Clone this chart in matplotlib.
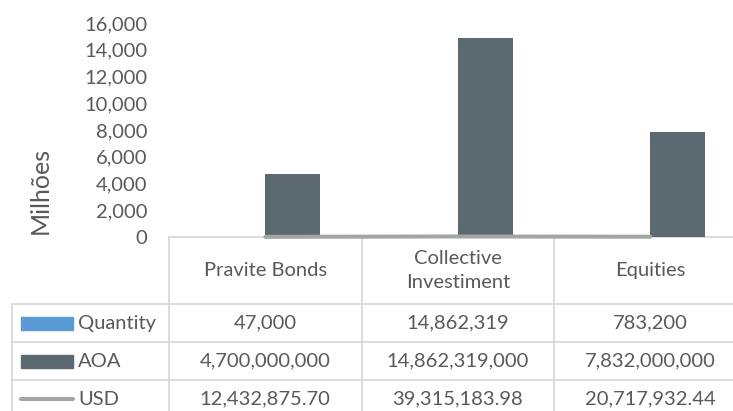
import matplotlib.pyplot as plt
from matplotlib.patches import Rectangle
import numpy as np

plt.rcParams['font.family'] = ['Lato', 'DejaVu Sans']

# Dados por tipo de ativo
categories = ['Pravite Bonds', 'Collective\nInvestiment', 'Equities']
quantity = np.array([47000, 14862319, 783200])
aoa = np.array([4700000000, 14862319000, 7832000000])
usd = np.array([12432875.70, 39315183.98, 20717932.44])

series_names = ['Quantity', 'AOA', 'USD']
series_labels = [
    [f'{v:,.0f}' for v in quantity],
    [f'{v:,.0f}' for v in aoa],
    [f'{v:,.2f}' for v in usd],
]

c_qty = '#5B9BD5'
c_aoa = '#5B6971'
c_usd = '#A5A5A5'
c_text = '#595959'
c_grid = '#D9D9D9'
fs = 14.5

W, H = 733, 411
fig = plt.figure(figsize=(W / 100, H / 100), dpi=100)

# geometria da tabela (pixels)
x_leg = 12
x0 = 169
colw = 192.5
y_axis = 237
y_head = 304
row_h = 38
y_max = 23

# camada da tabela de dados
tab = fig.add_axes([0, 0, 1, 1])
tab.set_xlim(0, W)
tab.set_ylim(H, 0)
tab.axis('off')

x_right = x0 + 3 * colw
tab.plot([x0, x_right], [y_axis, y_axis], color=c_grid, lw=1.3)
for r in range(4):
    y = y_head + r * row_h
    tab.plot([x_leg, x_right], [y, y], color=c_grid, lw=1.3)
tab.plot([x_leg, x_leg], [y_head, y_head + 3 * row_h], color=c_grid, lw=1.3)
for i in range(4):
    x = x0 + i * colw
    tab.plot([x, x], [y_axis, y_head + 3 * row_h], color=c_grid, lw=1.3)

for i, cat in enumerate(categories):
    tab.text(x0 + (i + 0.5) * colw, (y_axis + y_head) / 2, cat, ha='center',
             va='center', fontsize=fs, color=c_text, linespacing=1.45)

for r, (name, labels) in enumerate(zip(series_names, series_labels)):
    yc = y_head + (r + 0.5) * row_h
    if name == 'USD':
        tab.plot([21, 73], [yc, yc], color=c_usd, lw=2.9, solid_capstyle='round')
    else:
        col = c_qty if name == 'Quantity' else c_aoa
        tab.add_patch(Rectangle((21, yc - 6.5), 52, 13, color=col))
    tab.text(78, yc, name, ha='left', va='center', fontsize=fs, color=c_text)
    for i, lab in enumerate(labels):
        tab.text(x0 + (i + 0.5) * colw, yc, lab, ha='center', va='center',
                 fontsize=fs, color=c_text)

tab.text(40, 190, 'Milhões', rotation=90, ha='center', va='center',
         fontsize=18, color=c_text)

# grafico principal (valores em milhoes)
ax = fig.add_axes([x0 / W, (H - y_axis) / H, 3 * colw / W, (y_axis - y_max) / H])
ax.set_zorder(2)
ax.patch.set_visible(False)

x = np.arange(len(categories))
w = 0.286
ax.bar(x - w / 2, quantity / 1e6, w, color=c_qty)
ax.bar(x + w / 2, aoa / 1e6, w, color=c_aoa)
ax.plot(x, usd / 1e6, color=c_usd, lw=2.9, solid_capstyle='round', clip_on=False)

ax.set_xlim(-0.5, 2.5)
ax.set_ylim(0, 16000)
ax.set_yticks(np.arange(0, 16001, 2000))
ax.set_yticklabels([f'{v:,}' for v in range(0, 16001, 2000)])
ax.set_xticks([])
ax.tick_params(axis='y', length=0, pad=15.8, labelsize=fs, labelcolor=c_text)
for s in ax.spines.values():
    s.set_visible(False)

fig.savefig('out.png', dpi=100)
